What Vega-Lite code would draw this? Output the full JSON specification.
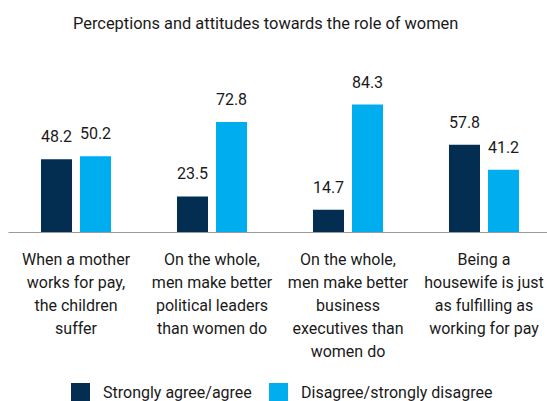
{
  "$schema": "https://vega.github.io/schema/vega-lite/v6.json",
  "autosize": {"type": "none"},
  "width": 539,
  "height": 136,
  "padding": {"left": 8, "right": 0, "top": 96, "bottom": 169},
  "background": "white",
  "config": {"view": {"stroke": null}, "font": "Roboto"},
  "title": {
    "text": "Perceptions and attitudes towards the role of women",
    "anchor": "start",
    "frame": "group",
    "dx": 65,
    "offset": 42,
    "fontSize": 16.4,
    "fontWeight": "normal",
    "color": "#1a1a1a"
  },
  "data": {
    "values": [
      {"q": "When a mother|works for pay,|the children|suffer", "s": "Strongly agree/agree", "v": 48.2},
      {"q": "When a mother|works for pay,|the children|suffer", "s": "Disagree/strongly disagree", "v": 50.2},
      {"q": "On the whole,|men make better|political leaders|than women do", "s": "Strongly agree/agree", "v": 23.5},
      {"q": "On the whole,|men make better|political leaders|than women do", "s": "Disagree/strongly disagree", "v": 72.8},
      {"q": "On the whole,|men make better|business|executives than|women do", "s": "Strongly agree/agree", "v": 14.7},
      {"q": "On the whole,|men make better|business|executives than|women do", "s": "Disagree/strongly disagree", "v": 84.3},
      {"q": "Being a|housewife is just|as fulfilling as|working for pay", "s": "Strongly agree/agree", "v": 57.8},
      {"q": "Being a|housewife is just|as fulfilling as|working for pay", "s": "Disagree/strongly disagree", "v": 41.2}
    ]
  },
  "encoding": {
    "x": {
      "field": "q",
      "type": "nominal",
      "sort": null,
      "scale": {"range": [0, 544], "paddingInner": 0.485, "paddingOuter": 0.2425},
      "axis": {
        "title": null,
        "labelAngle": 0,
        "ticks": false,
        "labelExpr": "split(datum.label, '|')",
        "labelFontSize": 16,
        "labelLineHeight": 23,
        "labelPadding": 19,
        "labelLimit": 0,
        "labelColor": "#1a1a1a",
        "domainColor": "#9a9a9a",
        "domainWidth": 1,
        "grid": false
      }
    },
    "xOffset": {
      "field": "s",
      "type": "nominal",
      "sort": null,
      "scale": {"paddingInner": 0.205, "paddingOuter": 0}
    },
    "y": {
      "field": "v",
      "type": "quantitative",
      "scale": {"domain": [0, 90]},
      "axis": null
    }
  },
  "layer": [
    {
      "mark": {"type": "bar"},
      "encoding": {
        "color": {
          "field": "s",
          "type": "nominal",
          "sort": null,
          "scale": {
            "domain": ["Strongly agree/agree", "Disagree/strongly disagree"],
            "range": ["#032e52", "#00aeef"]
          },
          "legend": {
            "orient": "none",
            "legendX": 63,
            "legendY": 287,
            "direction": "horizontal",
            "title": null,
            "symbolType": "square",
            "symbolSize": 361,
            "symbolStrokeWidth": 0,
            "labelFontSize": 16,
            "labelColor": "#1a1a1a",
            "labelOffset": 13,
            "labelLimit": 0,
            "columnPadding": 17,
            "padding": 0
          }
        }
      }
    },
    {
      "mark": {"type": "text", "dy": -22, "baseline": "middle", "fontSize": 16, "color": "#1a1a1a"},
      "encoding": {
        "text": {"field": "v", "type": "quantitative", "format": ".1f"}
      }
    }
  ]
}
